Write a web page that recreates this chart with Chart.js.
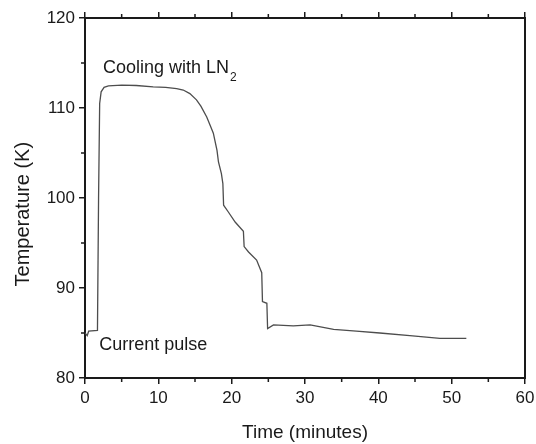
<!DOCTYPE html>
<html>
<head>
<meta charset="utf-8">
<script src="https://cdn.jsdelivr.net/npm/chart.js@4"></script>
<style>
  body { margin: 0; background: #fff; }
  #wrap { width: 536px; height: 444px; }
</style>
</head>
<body>
<div id="wrap"><canvas id="chart"></canvas></div>
<script>
// ---------------- DATA ----------------

const timeMin = [0, 0.3, 0.5, 1.7, 1.85, 2.0, 2.2, 2.6, 3.2, 5, 7, 9.3, 11, 12.5, 13.4,
    14.3, 15.2, 15.8, 16.6, 17.2, 17.5, 18.0, 18.2, 18.6, 18.8, 18.9, 19.5, 20.5, 21.6,
    21.7, 22.3, 23.4, 24.1, 24.2, 24.8, 24.9, 25.7, 28.4, 30.7, 33.9, 37, 40.2, 44.3,
    48.4, 52.0];
const tempK = [85.0, 84.7, 85.2, 85.3, 100, 110.5, 111.8, 112.3, 112.45, 112.55, 112.5,
    112.35, 112.3, 112.15, 112.0, 111.6, 110.9, 110.2, 109.0, 107.8, 107.2, 105.3, 104.0,
    102.7, 101.6, 99.2, 98.5, 97.3, 96.3, 94.6, 94.0, 93.1, 91.7, 88.5, 88.3, 85.5, 85.9,
    85.8, 85.9, 85.4, 85.2, 85.0, 84.7, 84.4, 84.4];

const xTicks = [0, 10, 20, 30, 40, 50, 60];
const yTicks = [80, 90, 100, 110, 120];

const FONT = "'Liberation Sans', Arial, sans-serif";
const INK = "#1a1a1a";

// ---------------- PLUGINS ----------------

// minor ticks half way between the labelled ones
const minorTicks = {
    id: "minorTicks",
    afterDraw(chart) {
        const { ctx, chartArea: a, scales } = chart;
        ctx.save();
        ctx.strokeStyle = INK;
        ctx.lineWidth = 1.5;
        ctx.beginPath();
        for (let i = 0; i < xTicks.length - 1; i++) {
            const px = scales.x.getPixelForValue((xTicks[i] + xTicks[i + 1]) / 2);
            ctx.moveTo(px, a.bottom);
            ctx.lineTo(px, a.bottom + 4);
            ctx.moveTo(px, a.top);
            ctx.lineTo(px, a.top - 4);
        }
        for (let i = 0; i < yTicks.length - 1; i++) {
            const py = scales.y.getPixelForValue((yTicks[i] + yTicks[i + 1]) / 2);
            ctx.moveTo(a.left, py);
            ctx.lineTo(a.left - 4, py);
        }
        ctx.stroke();
        ctx.restore();
    }
};

// text notes inside the plot + the y title (sits a bit below centre)
const notes = {
    id: "notes",
    afterDraw(chart) {
        const { ctx, scales } = chart;
        ctx.save();
        ctx.fillStyle = INK;
        ctx.textBaseline = "middle";
        ctx.textAlign = "left";

        let x = scales.x.getPixelForValue(2.45);
        let y = scales.y.getPixelForValue(114.4);
        ctx.font = "18px " + FONT;
        ctx.fillText("Cooling with LN", x, y);
        const w = ctx.measureText("Cooling with LN").width;
        ctx.font = "12px " + FONT;
        ctx.fillText("2", x + w + 1, y + 9);

        x = scales.x.getPixelForValue(1.95);
        y = scales.y.getPixelForValue(83.65);
        ctx.font = "18px " + FONT;
        ctx.fillText("Current pulse", x, y);

        ctx.translate(23, scales.y.getPixelForValue(98.2));
        ctx.rotate(-Math.PI / 2);
        ctx.textAlign = "center";
        ctx.font = "20px " + FONT;
        ctx.fillText("Temperature (K)", 0, 0);
        ctx.restore();
    }
};

// ---------------- CHART ----------------

const points = timeMin.map((t, i) => ({ x: t, y: tempK[i] }));

const tickFont = { family: FONT, size: 17 };

function noSidePad(s) {
    s.paddingLeft = 0;
    s.paddingRight = 0;
}

new Chart(document.getElementById("chart"), {
    type: "line",
    data: {
        datasets: [{
            data: points,
            xAxisID: "x",
            yAxisID: "y",
            borderColor: "#4d4d4d",
            borderWidth: 1.3,
            pointRadius: 0,
            tension: 0,
            fill: false
        }]
    },
    options: {
        responsive: true,
        maintainAspectRatio: false,
        animation: false,
        layout: { padding: 0 },
        plugins: {
            legend: { display: false },
            tooltip: { enabled: false }
        },
        scales: {
            x: {
                type: "linear",
                position: "bottom",
                min: 0,
                max: 60,
                afterFit: s => { s.height = 66; noSidePad(s); },
                afterBuildTicks: s => { s.ticks = xTicks.map(v => ({ value: v })); },
                ticks: { font: tickFont, color: INK, padding: 4, maxRotation: 0 },
                grid: { drawOnChartArea: false, drawTicks: true, tickLength: 6, color: INK, lineWidth: 1.5 },
                border: { display: true, color: INK, width: 2 },
                title: {
                    display: true,
                    text: "Time (minutes)",
                    color: INK,
                    font: { family: FONT, size: 19 },
                    padding: { top: 0, bottom: 0 }
                }
            },
            y: {
                type: "linear",
                position: "left",
                min: 80,
                max: 120,
                afterFit: s => { s.width = 85; s.paddingTop = 0; s.paddingBottom = 0; },
                afterBuildTicks: s => { s.ticks = yTicks.map(v => ({ value: v })); },
                ticks: { font: tickFont, color: INK, padding: 4 },
                grid: { drawOnChartArea: false, drawTicks: true, tickLength: 6, color: INK, lineWidth: 1.5 },
                border: { display: true, color: INK, width: 2 }
            },
            x2: {
                type: "linear",
                position: "top",
                min: 0,
                max: 60,
                afterFit: s => { s.height = 18; noSidePad(s); },
                afterBuildTicks: s => { s.ticks = xTicks.map(v => ({ value: v })); },
                ticks: { display: false },
                grid: { drawOnChartArea: false, drawTicks: true, tickLength: 6, color: INK, lineWidth: 1.5 },
                border: { display: true, color: INK, width: 2 }
            },
            y2: {
                type: "linear",
                position: "right",
                min: 80,
                max: 120,
                afterFit: s => { s.width = 11; },
                ticks: { display: false },
                grid: { display: false },
                border: { display: true, color: INK, width: 2 }
            }
        }
    },
    plugins: [minorTicks, notes]
});
</script>
</body>
</html>
